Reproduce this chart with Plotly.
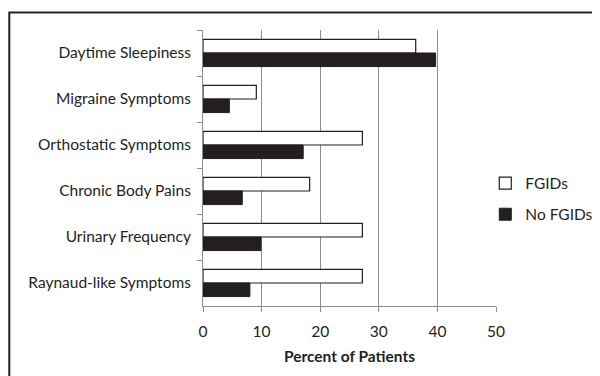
import plotly.graph_objects as go

categories = ["Daytime Sleepiness", "Migraine Symptoms", "Orthostatic Symptoms",
              "Chronic Body Pains", "Urinary Frequency", "Raynaud-like Symptoms"]
fgids = [36.3, 9.1, 27.2, 18.2, 27.2, 27.2]
no_fgids = [39.7, 4.5, 17.1, 6.7, 9.9, 8.0]
x_ticks = [0, 10, 20, 30, 40, 50]

FONT = "Lato"
FS = 15.5
OFF = 8  # page body margin offset

fig = go.Figure()
fig.add_trace(go.Bar(y=categories, x=fgids, orientation="h", name="FGIDs",
                     marker=dict(color="white", line=dict(color="#231f20", width=1.2)),
                     legendgroup="a"))
fig.add_trace(go.Bar(y=categories, x=no_fgids, orientation="h", name="No FGIDs",
                     marker=dict(color="#231f20", line=dict(color="#231f20", width=1)),
                     legendgroup="b"))

W, H = 600, 376
L = 203 - OFF
T = 30 - OFF
R = W - (495.7 - OFF)
B = H - (306 - OFF)
pw, ph = W - L - R, H - T - B

def px_x(p):  # screen px -> paper
    return (p - OFF - L) / pw

def px_y(p):
    return (H - B - (p - OFF)) / ph

fig.update_layout(
    width=W, height=H,
    margin=dict(l=L, r=R, t=T, b=B, pad=0, autoexpand=False),
    paper_bgcolor="white", plot_bgcolor="white",
    barmode="group", bargap=0.41, bargroupgap=0,
    font=dict(family=FONT, size=FS, color="#231f20"),
    showlegend=True,
    legend=dict(x=px_x(485), y=px_y(199), xanchor="left", yanchor="middle",
                font=dict(family=FONT, size=FS), tracegroupgap=8,
                itemwidth=30, bgcolor="rgba(0,0,0,0)"),
    xaxis=dict(range=[0, 50], tickvals=x_ticks, showgrid=True, gridcolor="#8c8c8c",
               gridwidth=1, showline=True, linecolor="#8c8c8c", linewidth=1,
               ticks="outside", ticklen=5, tickcolor="#8c8c8c", ticklabelstandoff=6,
               zeroline=False, fixedrange=True, automargin=False,
               title=dict(text="<b>Percent of Patients</b>", font=dict(family=FONT, size=FS),
                          standoff=12)),
    yaxis=dict(autorange="reversed", showline=True, linecolor="#8c8c8c", linewidth=1,
               ticks="outside", ticklen=5, tickcolor="#8c8c8c", tickson="boundaries",
               showgrid=False, ticklabelstandoff=8, automargin=False),
    shapes=[dict(type="rect", xref="paper", yref="paper",
                 x0=px_x(9.5), x1=px_x(620), y0=px_y(400), y1=px_y(12.5),
                 line=dict(color="#222222", width=2), fillcolor="rgba(0,0,0,0)",
                 layer="below")],
)
fig.write_html("out.html")
